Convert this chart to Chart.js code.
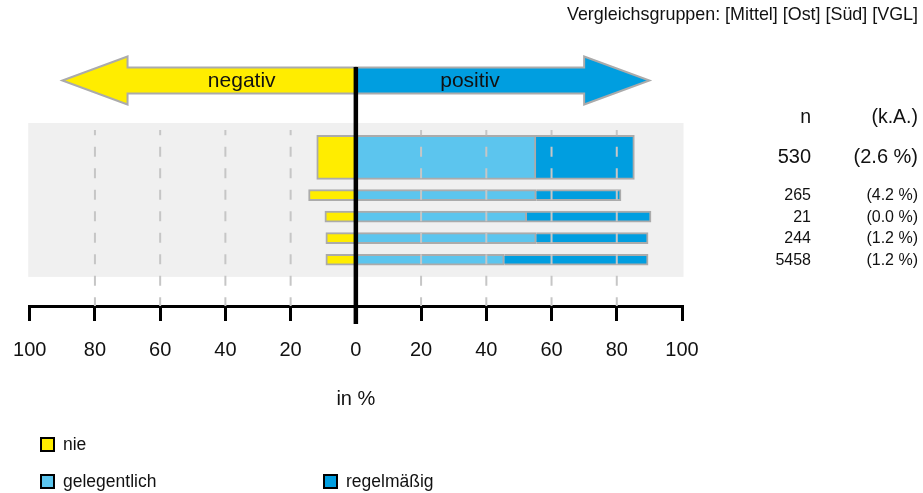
<!DOCTYPE html>
<html lang="de">
<head>
<meta charset="utf-8">
<title>Nutzung</title>
<script src="https://cdn.jsdelivr.net/npm/chart.js@4.4.1/dist/chart.umd.min.js"></script>
<style>
  html, body { margin: 0; padding: 0; background: #fff; }
  canvas { display: block; }
</style>
</head>
<body>
<canvas id="chart" width="923" height="493"></canvas>
<script>
// first row = own group, the rest are the comparison groups
var groups = ["Gesamt", "Mittel", "Ost", "Süd", "VGL"];
var nie = [12.0, 14.5, 9.5, 9.2, 9.2];
var gelegentlich = [55.2, 55.3, 52.4, 55.3, 45.5];
var regelmaessig = [30.2, 26.0, 38.1, 34.3, 44.1];
var nCount = [530, 265, 21, 244, 5458];
var keineAngabe = [2.6, 4.2, 0.0, 1.2, 1.2];
var xTicks = [-100, -80, -60, -40, -20, 0, 20, 40, 60, 80, 100];

// layout: row positions on the (hidden) y scale
var rowPos = [1.6, 3.35, 4.35, 5.35, 6.35];
var panelEnd = 7.15;

var FONT = "'Liberation Sans', Arial, Helvetica, sans-serif";
var YELLOW = "#FFED00", LIGHT = "#5CC5EE", DARK = "#009EE0", EDGE = "#ABABAB";

Chart.defaults.font.family = FONT;
Chart.defaults.color = "#111";

function rowData(values, from, to) {
    var out = [];
    for (var i = from; i < to; i++) out.push({ x: values[i], y: rowPos[i] });
    return out;
}

function series(label, values, color, sign, main) {
    var vals = values.map(function (v) { return v * sign; });
    return {
        label: label,
        data: main ? rowData(vals, 0, 1) : rowData(vals, 1, vals.length),
        backgroundColor: color,
        borderColor: EDGE,
        borderWidth: 2,
        borderSkipped: "start",
        barThickness: main ? 44 : 11
    };
}

var datasets = [
    series("nie", nie, YELLOW, -1, true),
    series("gelegentlich", gelegentlich, LIGHT, 1, true),
    series("regelmäßig", regelmaessig, DARK, 1, true),
    series("nie", nie, YELLOW, -1, false),
    series("gelegentlich", gelegentlich, LIGHT, 1, false),
    series("regelmäßig", regelmaessig, DARK, 1, false)
];

var legendItems = [
    { text: "nie", color: YELLOW, x: 41, y: 438 },
    { text: "gelegentlich", color: LIGHT, x: 41, y: 475 },
    { text: "regelmäßig", color: DARK, x: 324, y: 475 }
];

function arrow(ctx, xs, color) {
    // xs: pixel of zero, head base and tip
    var mid = 80.5;
    ctx.beginPath();
    ctx.moveTo(xs[0], mid - 13);
    ctx.lineTo(xs[1], mid - 13);
    ctx.lineTo(xs[1], mid - 24);
    ctx.lineTo(xs[2], mid);
    ctx.lineTo(xs[1], mid + 24);
    ctx.lineTo(xs[1], mid + 13);
    ctx.lineTo(xs[0], mid + 13);
    ctx.closePath();
    ctx.fillStyle = color;
    ctx.fill();
    ctx.lineWidth = 2;
    ctx.strokeStyle = EDGE;
    ctx.lineJoin = "miter";
    ctx.stroke();
}

var decor = {
    id: "decor",
    beforeDatasetsDraw: function (chart) {
        var ctx = chart.ctx, a = chart.chartArea, y = chart.scales.y;
        ctx.save();
        ctx.fillStyle = "#F0F0F0";
        ctx.fillRect(a.left - 1.5, a.top, a.right - a.left + 3, y.getPixelForValue(panelEnd) - a.top);
        ctx.restore();
    },
    afterDatasetsDraw: function (chart) {
        var ctx = chart.ctx, a = chart.chartArea, x = chart.scales.x, y = chart.scales.y;
        ctx.save();

        // dashed grid on top of the bars
        ctx.strokeStyle = "#C6C6C6";
        ctx.lineWidth = 2;
        ctx.setLineDash([10, 11.5]);
        ctx.lineDashOffset = 4.8;
        xTicks.forEach(function (v) {
            if (v === 0 || Math.abs(v) === 100) return;
            var px = x.getPixelForValue(v);
            ctx.beginPath();
            ctx.moveTo(px, 130);
            ctx.lineTo(px, a.bottom);
            ctx.stroke();
        });
        ctx.setLineDash([]);

        // direction arrows
        var x0 = x.getPixelForValue(0);
        arrow(ctx, [x0, x.getPixelForValue(-70), x.getPixelForValue(-90)], YELLOW);
        arrow(ctx, [x0, x.getPixelForValue(70), x.getPixelForValue(90)], DARK);
        ctx.fillStyle = "#111";
        ctx.font = "21px " + FONT;
        ctx.textAlign = "center";
        ctx.textBaseline = "middle";
        ctx.fillText("negativ", (x0 + x.getPixelForValue(-70)) / 2, 81);
        ctx.fillText("positiv", (x0 + x.getPixelForValue(70)) / 2, 81);

        // zero line
        ctx.strokeStyle = "#000";
        ctx.lineWidth = 4.5;
        ctx.beginPath();
        ctx.moveTo(x0, 67);
        ctx.lineTo(x0, 324);
        ctx.stroke();

        // n and k.A. column
        ctx.fillStyle = "#111";
        ctx.textAlign = "right";
        ctx.font = "19.5px " + FONT;
        ctx.fillText("n", 811, 118);
        ctx.fillText("(k.A.)", 918, 118);
        for (var i = 0; i < groups.length; i++) {
            var py = y.getPixelForValue(rowPos[i]) + 0.5;
            ctx.font = (i === 0 ? "20px " : "16px ") + FONT;
            ctx.fillText(String(nCount[i]), 811, py);
            ctx.fillText("(" + keineAngabe[i].toFixed(1) + " %)", 918, py);
        }

        // header
        ctx.font = "17.9px " + FONT;
        var names = groups.slice(1).map(function (g) { return "[" + g + "]"; }).join(" ");
        ctx.fillText("Vergleichsgruppen: " + names, 918, 15);

        // legend
        ctx.textAlign = "left";
        legendItems.forEach(function (it) {
            ctx.fillStyle = it.color;
            ctx.fillRect(it.x, it.y, 13, 13);
            ctx.strokeStyle = "#000";
            ctx.lineWidth = 2;
            ctx.strokeRect(it.x, it.y, 13, 13);
            ctx.fillStyle = "#111";
            ctx.font = "17.5px " + FONT;
            ctx.fillText(it.text, it.x + 22, it.y + 7);
        });

        ctx.restore();
    }
};

new Chart(document.getElementById("chart"), {
    type: "bar",
    data: { datasets: datasets },
    options: {
        indexAxis: "y",
        responsive: false,
        animation: false,
        layout: { padding: { left: 29.7, right: 241, top: 123, bottom: 82 } },
        plugins: { legend: { display: false }, tooltip: { enabled: false } },
        scales: {
            x: {
                type: "linear",
                min: -100,
                max: 100,
                stacked: true,
                afterBuildTicks: function (s) {
                    s.ticks = xTicks.map(function (v) { return { value: v }; });
                },
                afterFit: function (s) {
                    // end labels may hang into the outer padding
                    s.paddingLeft = 0;
                    s.paddingRight = 0;
                },
                ticks: {
                    autoSkip: false,
                    maxRotation: 0,
                    padding: 17,
                    color: "#111",
                    font: { size: 20 },
                    callback: function (v) { return Math.abs(v); }
                },
                grid: { drawOnChartArea: false, drawTicks: true, tickLength: 15, color: "#000", lineWidth: 3 },
                border: { color: "#000", width: 3 },
                title: { display: true, text: "in %", color: "#111", font: { size: 20 }, padding: { top: 8, bottom: 0 } }
            },
            y: {
                type: "linear",
                min: 0,
                max: 8.5,
                reverse: true,
                stacked: true,
                offset: false,
                display: false
            }
        }
    },
    plugins: [decor]
});
</script>
</body>
</html>
